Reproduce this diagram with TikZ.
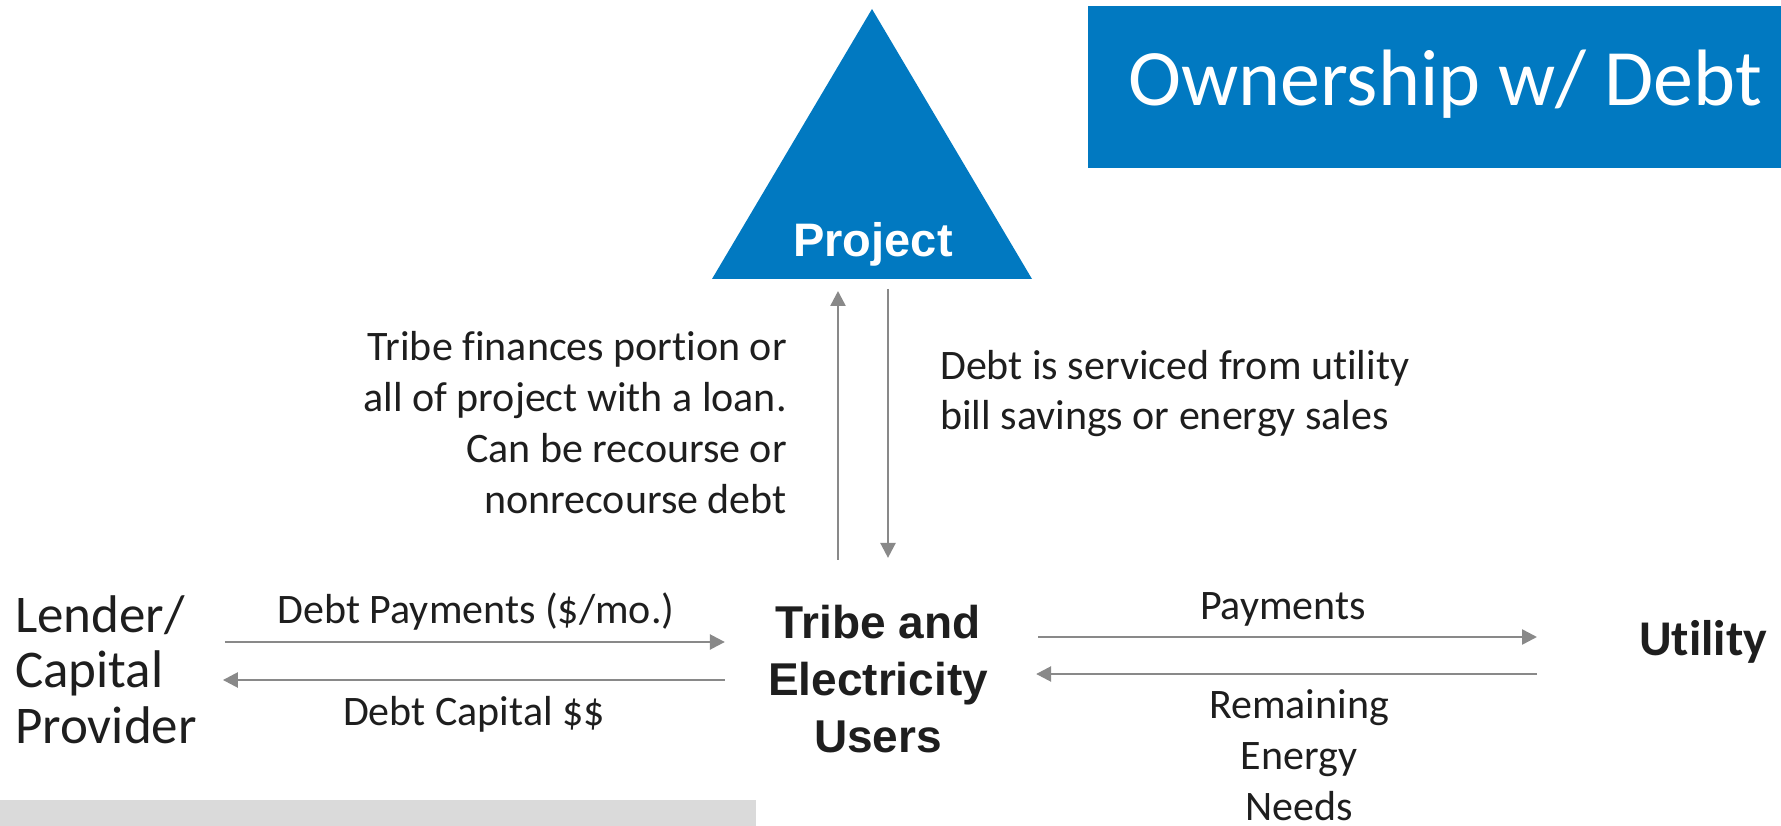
\documentclass[tikz,border=0pt]{standalone}
\usepackage{fontspec}
\setmainfont{Carlito}[Ligatures=NoCommon]
\newfontfamily\arialfont{Liberation Sans}
\usetikzlibrary{arrows.meta}
\definecolor{brandblue}{RGB}{1,121,193}
\definecolor{flowgray}{RGB}{137,137,137}
\definecolor{inkgray}{RGB}{30,30,30}
\definecolor{barGray}{RGB}{218,218,218}

\begin{document}
\begin{tikzpicture}[x=1pt,y=-1pt,
  txt/.style={inner sep=0pt, text=inkgray},
  flow/.style={draw=flowgray, line width=2.5pt, -{Triangle[length=15pt,width=15pt]}},
]
\useasboundingbox (0,0) rectangle (1781,826);

% header banner
\fill[brandblue] (1088,6) rectangle (1781,168);
\node[inner sep=0pt, anchor=base west, text=white, font=\fontsize{80}{96}\selectfont] (title) at (1128,106) {Ownership w/ Debt};

% project triangle
\coordinate (apex) at (872,9);
\coordinate (baseL) at (712,279);
\coordinate (baseR) at (1032,279);
\fill[brandblue] (baseL) -- (apex) -- (baseR) -- cycle;
\node[inner sep=0pt, anchor=base, text=white, font=\arialfont\bfseries\fontsize{47}{56}\selectfont] (proj) at (873,257) {Project};

% helper columns and rows for the connectors
\coordinate (upcol) at (838,0);
\coordinate (downcol) at (888,0);
\coordinate (rowLA) at (0,642);
\coordinate (rowLB) at (0,680);
\coordinate (rowRA) at (0,637);
\coordinate (rowRB) at (0,674);

% parties
\node[txt, anchor=base, font=\arialfont\bfseries\fontsize{46}{57}\selectfont] (users) at (878,638)
  {\begin{tabular}[t]{@{}c@{}}Tribe and\\Electricity\\Users\end{tabular}};
\node[txt, anchor=base west, font=\bfseries\fontsize{50}{60}\selectfont] (util) at (1639,655) {Utility};
\node[txt, anchor=base west, font=\fontsize{53}{55.5}\selectfont] (lender) at (15,632)
  {\begin{tabular}[t]{@{}l@{}}Lender/\\Capital\\Provider\end{tabular}};

% explanatory notes
\node[txt, anchor=base east, font=\fontsize{42}{51}\selectfont] (finnote) at (787,361)
  {\begin{tabular}[t]{@{}r@{}}Tribe finances portion or\\all of project with a loan.\\Can be recourse or\\nonrecourse debt\end{tabular}};
\node[txt, anchor=base west, font=\fontsize{42}{51}\selectfont] (servnote) at (940,379)
  {\begin{tabular}[t]{@{}l@{}}Debt is serviced from utility\\bill savings or energy sales\end{tabular}};

% connector labels
\node[txt, anchor=base, font=\fontsize{42}{50}\selectfont] (paylbl) at (476,623) {Debt Payments (\$/mo.)};
\node[txt, anchor=base, font=\fontsize{42}{50}\selectfont] (caplbl) at (474,725) {Debt Capital \$\$};
\node[txt, anchor=base, font=\fontsize{42}{50}\selectfont] (upaylbl) at (1283,619) {Payments};
\node[txt, anchor=base, font=\fontsize{42}{51}\selectfont] (needlbl) at (1299,718)
  {\begin{tabular}[t]{@{}c@{}}Remaining\\Energy\\Needs\end{tabular}};

% connectors
\draw[flow, shorten <=28pt, shorten >=43pt] (lender.east |- rowLA) -- (users.west |- rowLA);
\draw[flow, shorten <=43pt, shorten >=26pt] (users.west |- rowLB) -- (lender.east |- rowLB);
\draw[flow, shorten <=50pt, shorten >=102pt] (users.east |- rowRA) -- (util.west |- rowRA);
\draw[flow, shorten <=102pt, shorten >=48pt] (util.west |- rowRB) -- (users.east |- rowRB);
\draw[flow, shorten <=38pt, shorten >=12pt] (users.north -| upcol) -- (baseL -| upcol);
\draw[flow, shorten <=10pt, shorten >=40pt] (baseL -| downcol) -- (users.north -| downcol);

% footer strip
\fill[barGray] (0,800) rectangle (756,826);
\end{tikzpicture}
\end{document}
